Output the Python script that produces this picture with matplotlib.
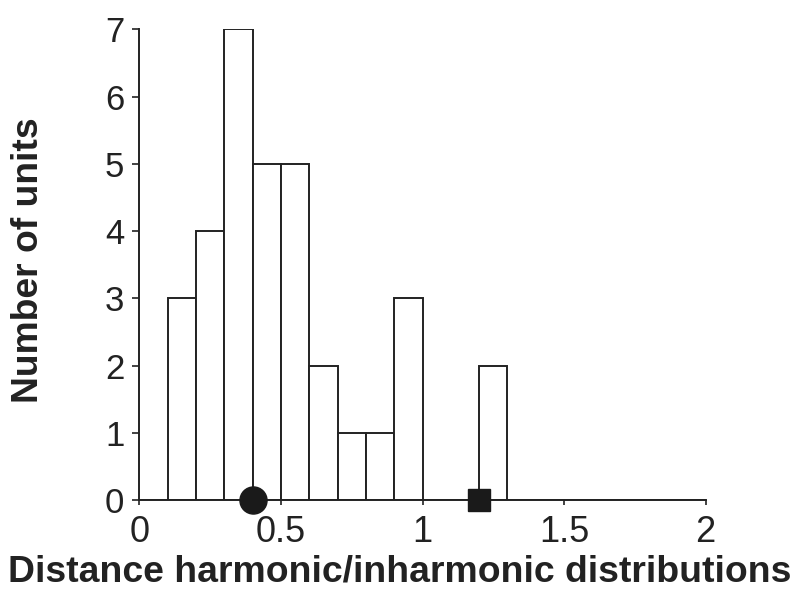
import matplotlib
matplotlib.use('Agg')
import matplotlib.pyplot as plt
import numpy as np

# ── Data ──────────────────────────────────────────────────────────────────────
bin_left = [0.0, 0.1, 0.2, 0.3, 0.4, 0.5, 0.6, 0.7, 0.8, 0.9,
            1.0, 1.1, 1.2, 1.3, 1.4, 1.5, 1.6, 1.7, 1.8, 1.9]
counts   = [0, 3, 4, 7, 5, 5, 2, 1, 1, 3,
            0, 0, 2, 0, 0, 0, 0, 0, 0, 0]
bin_width = 0.1

circle_x = 0.4     # mean marker (circle)
square_x = 1.2     # mean marker (square)

x_ticks = [0, 0.5, 1, 1.5, 2]
x_tick_labels = ['0', '0.5', '1', '1.5', '2']
y_ticks = [0, 1, 2, 3, 4, 5, 6, 7]

plt.rcParams['font.family'] = ['Liberation Sans', 'DejaVu Sans']
INK = '#222222'

W, H = 798, 597
fig = plt.figure(figsize=(W / 100, H / 100), dpi=100)
ax = fig.add_axes([139.3 / W, 1 - 500 / H, (705.7 - 139.3) / W, (500 - 29.3) / H])

ax.bar(bin_left, counts, width=bin_width, align='edge',
       facecolor='white', edgecolor=INK, linewidth=1.4, zorder=2)

ax.plot([circle_x], [0], 'o', ms=19.5, color='#1a1a1a', clip_on=False, zorder=5)
ax.plot([square_x], [0], 's', ms=16, color='#1a1a1a', clip_on=False, zorder=5)

ax.set_xlim(0, 2)
ax.set_ylim(0, 7)
ax.set_xticks(x_ticks)
ax.set_xticklabels(x_tick_labels)
ax.set_yticks(y_ticks)

for s in ['top', 'right']:
    ax.spines[s].set_visible(False)
for s in ['left', 'bottom']:
    ax.spines[s].set_linewidth(1.4)
    ax.spines[s].set_color(INK)
    ax.spines[s].set_zorder(3)

ax.tick_params(axis='both', width=1.2, color=INK, labelcolor=INK)
ax.tick_params(axis='x', labelsize=26, length=3.6, pad=7)
ax.tick_params(axis='y', labelsize=25, length=4.7, pad=6)

# axis titles (the reference centres the x title on the figure, not the axes)
fig.text(400 / W, 1 - 582 / H, 'Distance harmonic/inharmonic distributions',
         fontsize=26.9, fontweight='bold', color=INK, ha='center', va='baseline')
fig.text(29 / W, 1 - 260 / H, 'Number of units', fontsize=26.8, fontweight='bold',
         color=INK, rotation=90, ha='center', va='center')

fig.savefig('out.png', dpi=100)
